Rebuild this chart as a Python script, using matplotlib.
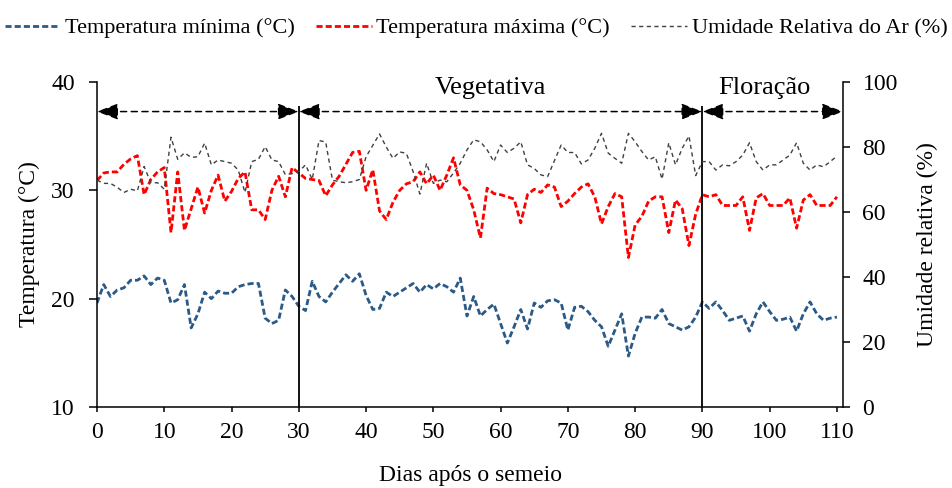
import numpy as np
import matplotlib
matplotlib.use("Agg")
import matplotlib.pyplot as plt


# ------------------------------------------------------------------------------
plt.rcParams["font.family"] = ["Liberation Serif", "DejaVu Serif"]

dias = np.arange(111)  # Dias após o semeio (0 - 110)

t_min = [
    19.6, 21.3, 20.2, 20.8, 21.0, 21.7, 21.7, 22.1, 21.3, 21.9,
    21.7, 19.6, 19.9, 21.3, 17.3, 18.6, 20.6, 20.0, 20.7, 20.5,
    20.5, 21.1, 21.3, 21.4, 21.4, 18.2, 17.7, 18.0, 20.8, 20.2,
    19.3, 18.9, 21.6, 20.2, 19.7, 20.6, 21.4, 22.2, 21.6, 22.3,
    20.3, 19.0, 19.1, 20.6, 20.2, 20.6, 21.0, 21.4, 20.6, 21.3,
    20.9, 21.4, 21.1, 20.6, 21.9, 18.4, 20.2, 18.4, 19.0, 19.5,
    17.7, 15.9, 17.4, 19.0, 17.2, 19.6, 19.2, 19.8, 19.9, 19.6,
    17.1, 19.2, 19.3, 18.8, 18.0, 17.4, 15.6, 17.1, 18.6, 14.7,
    16.8, 18.3, 18.3, 18.2, 19.0, 17.7, 17.4, 17.1, 17.4, 18.3,
    19.7, 19.1, 19.7, 18.9, 18.0, 18.2, 18.4, 17.0, 18.6, 19.7,
    18.8, 18.0, 18.1, 18.3, 17.0, 18.6, 19.7, 18.6, 18.0, 18.2,
    18.3,
]

t_max = [
    30.9, 31.6, 31.7, 31.7, 32.4, 32.9, 33.2, 29.6, 31.0, 31.7,
    32.1, 26.1, 31.7, 26.3, 28.3, 30.3, 27.9, 30.0, 31.4, 29.0,
    29.9, 31.1, 31.7, 28.2, 28.2, 27.3, 30.0, 31.3, 29.4, 32.1,
    31.6, 31.1, 31.0, 30.9, 29.5, 30.5, 31.3, 32.4, 33.5, 33.6,
    30.0, 31.9, 28.1, 27.3, 28.9, 30.0, 30.6, 30.8, 31.7, 30.6,
    31.4, 30.0, 31.4, 33.0, 30.5, 30.0, 28.2, 25.6, 30.2, 29.7,
    29.6, 29.4, 29.2, 27.0, 29.6, 30.1, 29.8, 30.5, 30.3, 28.5,
    29.0, 29.7, 30.3, 30.6, 29.4, 26.9, 28.5, 29.7, 29.4, 23.8,
    26.8, 27.6, 29.0, 29.4, 29.4, 26.1, 29.1, 28.3, 24.9, 27.8,
    29.6, 29.4, 29.6, 28.6, 28.6, 28.6, 29.4, 26.3, 29.3, 29.7,
    28.6, 28.6, 28.6, 29.3, 26.5, 29.1, 29.6, 28.6, 28.6, 28.6,
    29.4,
]

umidade = [
    69.8, 68.8, 68.8, 67.6, 66.0, 67.0, 66.5, 74.0, 69.0, 69.0,
    67.0, 83.0, 76.2, 78.2, 76.8, 77.0, 81.2, 74.5, 76.0, 75.5,
    75.0, 72.9, 66.0, 75.5, 76.2, 80.1, 76.0, 75.5, 71.5, 71.8,
    72.4, 74.5, 70.0, 82.0, 81.5, 69.8, 69.3, 69.0, 69.3, 70.0,
    77.0, 80.5, 84.0, 80.0, 76.5, 78.5, 78.0, 72.4, 65.5, 75.0,
    68.8, 69.8, 69.3, 72.0, 75.0, 79.1, 82.2, 81.6, 79.1, 75.5,
    80.6, 78.3, 79.6, 81.6, 74.5, 73.4, 71.4, 70.9, 75.8, 80.6,
    78.3, 78.3, 74.8, 76.0, 79.6, 84.2, 78.1, 76.5, 75.0, 84.2,
    81.6, 78.6, 76.0, 77.0, 70.1, 81.3, 74.5, 79.6, 83.4, 71.2,
    75.5, 75.5, 72.9, 74.5, 74.2, 75.5, 77.5, 81.3, 75.5, 72.9,
    74.5, 74.5, 76.0, 77.5, 81.3, 75.0, 72.9, 74.5, 73.9, 75.5,
    77.2,
]

# Fases: (inicio, fim, nome)
fase_inicio = [0, 30, 90]
fase_fim = [30, 90, 110.9]
fase_nome = ["", "Vegetativa", "Floração"]
fase_texto_x = [15, 58.5, 99.2]
# ------------------------------------------------------------------------------

fig = plt.figure(figsize=(9.52, 4.88), dpi=100)
ax = fig.add_axes([0.1019, 0.166, 0.7836, 0.666])
ax2 = ax.twinx()

l_min, = ax.plot(dias, t_min, color="#2B5A87", lw=2.0, dashes=(2.2, 1.1),
                 label="Temperatura mínima (°C)")
l_max, = ax.plot(dias, t_max, color="#FF0000", lw=2.0, dashes=(2.2, 1.1),
                 label="Temperatura máxima (°C)")
l_ur, = ax2.plot(dias, umidade, color="#404040", lw=1.0, dashes=(3, 2.5),
                 label="Umidade Relativa do Ar (%)")

ax.set_xlim(0, 110.9)
ax.set_ylim(10, 40)
ax2.set_ylim(0, 100)
ax.set_xticks(range(0, 111, 10))
ax.set_yticks([10, 20, 30, 40])
ax2.set_yticks(range(0, 101, 20))

for sp in ["top", "right"]:
    ax.spines[sp].set_visible(False)
for sp in ["top", "left", "bottom"]:
    ax2.spines[sp].set_visible(False)
ax.spines["left"].set_linewidth(1.1)
ax.spines["bottom"].set_linewidth(1.1)
ax2.spines["right"].set_linewidth(1.1)

ax.tick_params(axis="y", direction="out", length=6, width=1.1, pad=10,
               labelsize=17)
ax.tick_params(axis="x", direction="out", length=3.5, width=1.1, pad=7,
               labelsize=17)
ax2.tick_params(axis="y", direction="out", length=5, width=1.1, pad=9,
                labelsize=17)

ax.set_xlabel("Dias após o semeio", fontsize=17, labelpad=16)
ax.set_ylabel("Temperatura (°C)", fontsize=17, labelpad=8)
ax2.set_ylabel("Umidade relativa (%)", fontsize=17, labelpad=14)

# Fases fenologicas
y_seta = 37.27
ax.vlines(fase_inicio[1:], 10, 37.8, color="black", lw=1.3)
for x0, x1, nome, xt in zip(fase_inicio, fase_fim, fase_nome, fase_texto_x):
    ax.annotate(
        "", xy=(x1, y_seta), xytext=(x0, y_seta),
        arrowprops=dict(arrowstyle="<|-|>,head_length=1.3,head_width=0.5",
                        linestyle=(0, (4, 3)), lw=1.1, color="black",
                        shrinkA=0, shrinkB=0, mutation_scale=10),
        annotation_clip=False,
    )
    if nome:
        ax.text(xt, 39.45, nome, ha="center", va="center", fontsize=19)

fig.legend(handles=[l_min, l_max, l_ur], loc="upper center",
           bbox_to_anchor=(0.5, 1.0), ncol=3, frameon=False, fontsize=16,
           handlelength=2.5, handletextpad=0.22, columnspacing=0.95,
           borderpad=0.3)

fig.savefig("out.png", dpi=100)
